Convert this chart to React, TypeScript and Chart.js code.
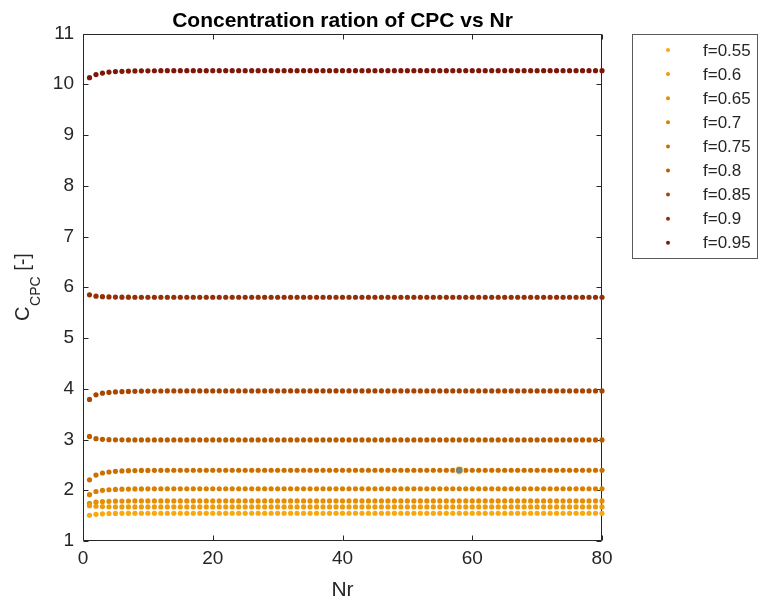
import React, { useEffect, useRef } from "react";
import { Chart, registerables } from "chart.js";

Chart.register(...registerables);

// Number of reflections (x positions)
const nr: number[] = Array.from({ length: 80 }, (_, i) => i + 1);

const seriesLabels = ["f=0.55", "f=0.6", "f=0.65", "f=0.7", "f=0.75", "f=0.8", "f=0.85", "f=0.9", "f=0.95"];
const seriesColors = ["#F9A80E", "#EE9B08", "#E38E04", "#D88000", "#CA7000", "#BA5C00", "#A84604", "#952F06", "#7E1707"];

const s055 = [
  1.507, 1.525, 1.535, 1.540, 1.543, 1.545, 1.546, 1.547, 1.547, 1.547, 1.547, 1.547, 1.547, 1.547, 1.547, 1.547, 1.547, 1.547, 1.547, 1.547,
  1.547, 1.547, 1.547, 1.547, 1.547, 1.547, 1.547, 1.547, 1.547, 1.547, 1.547, 1.547, 1.547, 1.547, 1.547, 1.547, 1.547, 1.547, 1.547, 1.547,
  1.547, 1.547, 1.547, 1.547, 1.547, 1.547, 1.547, 1.547, 1.547, 1.547, 1.547, 1.547, 1.547, 1.547, 1.547, 1.547, 1.547, 1.547, 1.547, 1.547,
  1.547, 1.547, 1.547, 1.547, 1.547, 1.547, 1.547, 1.547, 1.547, 1.547, 1.547, 1.547, 1.547, 1.547, 1.547, 1.547, 1.547, 1.547, 1.547, 1.547,
];
const s060 = [
  1.697, 1.685, 1.678, 1.674, 1.672, 1.671, 1.671, 1.671, 1.671, 1.671, 1.671, 1.671, 1.671, 1.671, 1.671, 1.671, 1.671, 1.671, 1.671, 1.671,
  1.671, 1.671, 1.671, 1.671, 1.671, 1.671, 1.671, 1.671, 1.671, 1.671, 1.671, 1.671, 1.671, 1.671, 1.671, 1.671, 1.671, 1.671, 1.671, 1.671,
  1.671, 1.671, 1.671, 1.671, 1.671, 1.671, 1.671, 1.671, 1.671, 1.671, 1.671, 1.671, 1.671, 1.671, 1.671, 1.671, 1.671, 1.671, 1.671, 1.671,
  1.671, 1.671, 1.671, 1.671, 1.671, 1.671, 1.671, 1.671, 1.671, 1.671, 1.671, 1.671, 1.671, 1.671, 1.671, 1.671, 1.671, 1.671, 1.671, 1.671,
];
const s065 = [
  1.744, 1.765, 1.776, 1.782, 1.785, 1.787, 1.788, 1.789, 1.789, 1.789, 1.789, 1.789, 1.789, 1.789, 1.789, 1.789, 1.789, 1.789, 1.789, 1.789,
  1.789, 1.789, 1.789, 1.789, 1.789, 1.789, 1.789, 1.789, 1.789, 1.789, 1.789, 1.789, 1.789, 1.789, 1.789, 1.789, 1.789, 1.789, 1.789, 1.789,
  1.789, 1.789, 1.789, 1.789, 1.789, 1.789, 1.789, 1.789, 1.789, 1.789, 1.789, 1.789, 1.789, 1.789, 1.789, 1.789, 1.789, 1.789, 1.789, 1.789,
  1.789, 1.789, 1.789, 1.789, 1.789, 1.789, 1.789, 1.789, 1.789, 1.789, 1.789, 1.789, 1.789, 1.789, 1.789, 1.789, 1.789, 1.789, 1.789, 1.789,
];
const s070 = [
  1.913, 1.975, 1.998, 2.010, 2.017, 2.021, 2.024, 2.026, 2.027, 2.028, 2.029, 2.030, 2.030, 2.030, 2.030, 2.030, 2.030, 2.030, 2.030, 2.030,
  2.030, 2.030, 2.030, 2.030, 2.030, 2.030, 2.030, 2.030, 2.030, 2.030, 2.030, 2.030, 2.030, 2.030, 2.030, 2.030, 2.030, 2.030, 2.030, 2.030,
  2.030, 2.030, 2.030, 2.030, 2.030, 2.030, 2.030, 2.030, 2.030, 2.030, 2.030, 2.030, 2.030, 2.030, 2.030, 2.030, 2.030, 2.030, 2.030, 2.030,
  2.030, 2.030, 2.030, 2.030, 2.030, 2.030, 2.030, 2.030, 2.030, 2.030, 2.030, 2.030, 2.030, 2.030, 2.030, 2.030, 2.030, 2.030, 2.030, 2.030,
];
const s075 = [
  2.205, 2.300, 2.340, 2.360, 2.372, 2.380, 2.385, 2.388, 2.390, 2.391, 2.392, 2.393, 2.394, 2.394, 2.394, 2.394, 2.394, 2.394, 2.394, 2.394,
  2.394, 2.394, 2.394, 2.394, 2.394, 2.394, 2.394, 2.394, 2.394, 2.394, 2.394, 2.394, 2.394, 2.394, 2.394, 2.394, 2.394, 2.394, 2.394, 2.394,
  2.394, 2.394, 2.394, 2.394, 2.394, 2.394, 2.394, 2.394, 2.394, 2.394, 2.394, 2.394, 2.394, 2.394, 2.394, 2.394, 2.394, 2.394, 2.394, 2.394,
  2.394, 2.394, 2.394, 2.394, 2.394, 2.394, 2.394, 2.394, 2.394, 2.394, 2.394, 2.394, 2.394, 2.394, 2.394, 2.394, 2.394, 2.394, 2.394, 2.394,
];
const s080 = [
  3.060, 3.016, 3.003, 2.997, 2.994, 2.993, 2.992, 2.992, 2.992, 2.992, 2.992, 2.992, 2.992, 2.992, 2.992, 2.992, 2.992, 2.992, 2.992, 2.992,
  2.992, 2.992, 2.992, 2.992, 2.992, 2.992, 2.992, 2.992, 2.992, 2.992, 2.992, 2.992, 2.992, 2.992, 2.992, 2.992, 2.992, 2.992, 2.992, 2.992,
  2.992, 2.992, 2.992, 2.992, 2.992, 2.992, 2.992, 2.992, 2.992, 2.992, 2.992, 2.992, 2.992, 2.992, 2.992, 2.992, 2.992, 2.992, 2.992, 2.992,
  2.992, 2.992, 2.992, 2.992, 2.992, 2.992, 2.992, 2.992, 2.992, 2.992, 2.992, 2.992, 2.992, 2.992, 2.992, 2.992, 2.992, 2.992, 2.992, 2.992,
];
const s085 = [
  3.790, 3.880, 3.912, 3.928, 3.937, 3.943, 3.947, 3.950, 3.952, 3.954, 3.955, 3.956, 3.957, 3.957, 3.957, 3.957, 3.957, 3.957, 3.957, 3.957,
  3.957, 3.957, 3.957, 3.957, 3.957, 3.957, 3.957, 3.957, 3.957, 3.957, 3.957, 3.957, 3.957, 3.957, 3.957, 3.957, 3.957, 3.957, 3.957, 3.957,
  3.957, 3.957, 3.957, 3.957, 3.957, 3.957, 3.957, 3.957, 3.957, 3.957, 3.957, 3.957, 3.957, 3.957, 3.957, 3.957, 3.957, 3.957, 3.957, 3.957,
  3.957, 3.957, 3.957, 3.957, 3.957, 3.957, 3.957, 3.957, 3.957, 3.957, 3.957, 3.957, 3.957, 3.957, 3.957, 3.957, 3.957, 3.957, 3.957, 3.957,
];
const s090 = [
  5.850, 5.825, 5.815, 5.810, 5.807, 5.805, 5.804, 5.803, 5.803, 5.803, 5.803, 5.803, 5.803, 5.803, 5.803, 5.803, 5.803, 5.803, 5.803, 5.803,
  5.803, 5.803, 5.803, 5.803, 5.803, 5.803, 5.803, 5.803, 5.803, 5.803, 5.803, 5.803, 5.803, 5.803, 5.803, 5.803, 5.803, 5.803, 5.803, 5.803,
  5.803, 5.803, 5.803, 5.803, 5.803, 5.803, 5.803, 5.803, 5.803, 5.803, 5.803, 5.803, 5.803, 5.803, 5.803, 5.803, 5.803, 5.803, 5.803, 5.803,
  5.803, 5.803, 5.803, 5.803, 5.803, 5.803, 5.803, 5.803, 5.803, 5.803, 5.803, 5.803, 5.803, 5.803, 5.803, 5.803, 5.803, 5.803, 5.803, 5.803,
];
const s095 = [
  10.13, 10.19, 10.22, 10.24, 10.25, 10.255, 10.26, 10.262, 10.264, 10.265, 10.266, 10.267, 10.268, 10.268, 10.268, 10.268, 10.268, 10.268, 10.268, 10.268,
  10.268, 10.268, 10.268, 10.268, 10.268, 10.268, 10.268, 10.268, 10.268, 10.268, 10.268, 10.268, 10.268, 10.268, 10.268, 10.268, 10.268, 10.268, 10.268, 10.268,
  10.268, 10.268, 10.268, 10.268, 10.268, 10.268, 10.268, 10.268, 10.268, 10.268, 10.268, 10.268, 10.268, 10.268, 10.268, 10.268, 10.268, 10.268, 10.268, 10.268,
  10.268, 10.268, 10.268, 10.268, 10.268, 10.268, 10.268, 10.268, 10.268, 10.268, 10.268, 10.268, 10.268, 10.268, 10.268, 10.268, 10.268, 10.268, 10.268, 10.268,
];

const seriesValues = [s055, s060, s065, s070, s075, s080, s085, s090, s095];

// highlighted data tip point
const datatipNr = 58;
const datatipValue = 2.394;

const titleText = "Concentration ration of CPC vs Nr";
const xLabelText = "Nr";
const xMin = 0, xMax = 80, xStep = 20;
const yMin = 1, yMax = 11, yStep = 1;

const FONT = '"Liberation Sans", Arial, Helvetica, sans-serif';
const AX = "#262626";

const decorPlugin = {
  id: "decor",
  beforeDatasetsDraw(chart: any) {
    const { ctx, chartArea: a, scales } = chart;
    const L = Math.round(a.left) + 0.5;
    const R = Math.round(a.right) - 0.5;
    const T = Math.round(a.top) + 0.5;
    const B = Math.round(a.bottom) - 0.5;
    ctx.save();
    ctx.strokeStyle = AX;
    ctx.lineWidth = 1;
    ctx.beginPath();
    ctx.rect(L, T, R - L, B - T);
    const tl = 5;
    scales.x.ticks.forEach((t: any) => {
      const px = Math.round(scales.x.getPixelForValue(t.value)) + 0.5;
      ctx.moveTo(px, B);
      ctx.lineTo(px, B - tl);
      ctx.moveTo(px, T);
      ctx.lineTo(px, T + tl);
    });
    scales.y.ticks.forEach((t: any) => {
      const py = Math.round(scales.y.getPixelForValue(t.value)) + 0.5;
      ctx.moveTo(L, py);
      ctx.lineTo(L + tl, py);
      ctx.moveTo(R, py);
      ctx.lineTo(R - tl, py);
    });
    ctx.stroke();
    ctx.restore();
  },
  afterDraw(chart: any) {
    const { ctx, chartArea: a } = chart;
    ctx.save();
    // title
    ctx.fillStyle = "#000";
    ctx.font = `bold 21px ${FONT}`;
    ctx.textAlign = "center";
    ctx.textBaseline = "alphabetic";
    ctx.fillText(titleText, (a.left + a.right) / 2, 27);
    // x label
    ctx.fillStyle = AX;
    ctx.font = `21px ${FONT}`;
    ctx.fillText(xLabelText, (a.left + a.right) / 2, 596);
    // y label with subscript
    const mainFont = `20px ${FONT}`;
    const subFont = `14px ${FONT}`;
    ctx.font = mainFont;
    const wC = ctx.measureText("C").width;
    const wTail = ctx.measureText(" [-]").width;
    ctx.font = subFont;
    const wSub = ctx.measureText("CPC").width;
    const total = wC + wSub + wTail;
    const cy = (a.top + a.bottom) / 2;
    ctx.translate(29, cy + total / 2);
    ctx.rotate(-Math.PI / 2);
    ctx.textAlign = "left";
    ctx.font = mainFont;
    ctx.fillText("C", 0, 0);
    ctx.font = subFont;
    ctx.fillText("CPC", wC + 0.5, 11);
    ctx.font = mainFont;
    ctx.fillText(" [-]", wC + wSub + 0.5, 0);
    ctx.setTransform(1, 0, 0, 1, 0, 0);
    // legend
    const bx = 632.5, by = 34.5, bw = 125, bh = 224;
    ctx.fillStyle = "#fff";
    ctx.fillRect(bx, by, bw, bh);
    ctx.strokeStyle = "#5a5a5a";
    ctx.lineWidth = 1;
    ctx.strokeRect(bx, by, bw, bh);
    ctx.font = `17px ${FONT}`;
    ctx.textBaseline = "middle";
    ctx.textAlign = "left";
    seriesLabels.forEach((lab, i) => {
      const y = 50 + i * 24.1;
      ctx.fillStyle = seriesColors[i];
      ctx.beginPath();
      ctx.arc(668, y, 2, 0, Math.PI * 2);
      ctx.fill();
      ctx.fillStyle = AX;
      ctx.fillText(lab, 703, y + 1);
    });
    ctx.restore();
  },
};

export default function App() {
  const ref = useRef<HTMLCanvasElement | null>(null);
  useEffect(() => {
    if (!ref.current) return;
    const datasets: any[] = seriesValues.map((vals, i) => ({
      label: seriesLabels[i],
      data: nr.map((x, j) => ({ x, y: vals[j] })),
      backgroundColor: seriesColors[i],
      borderWidth: 0,
      pointRadius: 2.6,
      pointHoverRadius: 2.6,
      clip: 6,
    }));
    datasets.push({
      label: "datatip",
      data: [{ x: datatipNr, y: datatipValue }],
      backgroundColor: "#808080",
      borderColor: "#fff3a0",
      borderWidth: 1.2,
      pointRadius: 4,
      order: -1,
      clip: 6,
    });
    const chart = new Chart(ref.current, {
      type: "scatter",
      data: { datasets },
      options: {
        animation: false,
        responsive: false,
        devicePixelRatio: 1,
        layout: { padding: { top: 33.5, right: 156, left: 0, bottom: 0 } },
        plugins: { legend: { display: false }, tooltip: { enabled: false }, title: { display: false } },
        events: [],
        scales: {
          x: {
            type: "linear",
            min: xMin,
            max: xMax,
            afterFit: (s: any) => { s.height = 65; },
            ticks: { stepSize: xStep, font: { family: FONT, size: 19 }, color: AX, padding: 6, maxRotation: 0 },
            grid: { display: false, drawTicks: false },
            border: { display: false },
          },
          y: {
            type: "linear",
            min: yMin,
            max: yMax,
            afterFit: (s: any) => { s.width = 83; },
            ticks: { stepSize: yStep, font: { family: FONT, size: 19 }, color: AX, padding: 9 },
            grid: { display: false, drawTicks: false },
            border: { display: false },
          },
        },
      },
      plugins: [decorPlugin],
    });
    return () => chart.destroy();
  }, []);
  return (
    <div style={{ position: "absolute", left: 0, top: 0, width: 758, height: 606, background: "#fff" }}>
      <canvas ref={ref} width={758} height={606} style={{ display: "block" }} />
    </div>
  );
}
